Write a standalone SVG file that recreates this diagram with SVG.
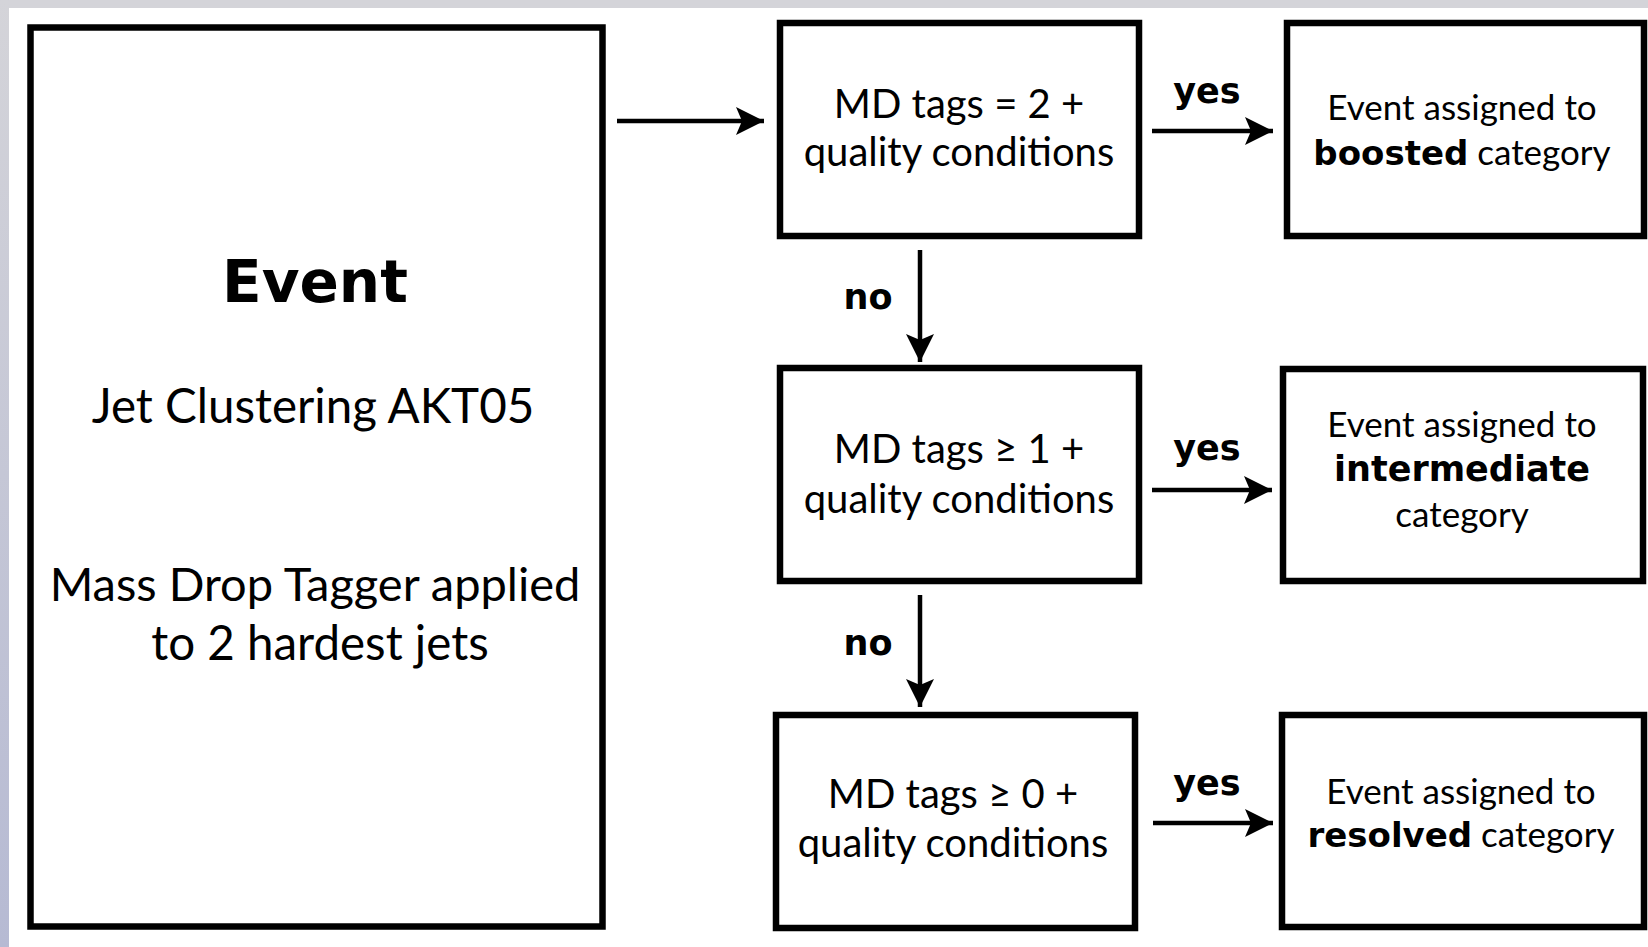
<svg xmlns="http://www.w3.org/2000/svg" width="1648" height="947" viewBox="0 0 1648 947">
<defs>
<linearGradient id="sideGrad" x1="0" y1="0" x2="0" y2="1">
<stop offset="0" stop-color="#d4d4d9"/>
<stop offset="1" stop-color="#b6bad3"/>
</linearGradient>
<marker id="arrow" viewBox="0 0 28 28" refX="28" refY="14" markerWidth="28" markerHeight="28" markerUnits="userSpaceOnUse" orient="auto">
<path d="M0,0 L28,14 L0,28 L6,14 Z" fill="#000"/>
</marker>
<style>
.box{fill:#fff;stroke:#000;stroke-width:6.5}
.t{font-family:Lato,"Open Sans","Liberation Sans",sans-serif;fill:#000;text-anchor:middle}
.b{font-family:"DejaVu Sans","Liberation Sans",sans-serif;font-weight:bold}
.cond{font-size:40px}
.res{font-size:35px}
.lbl{font-size:35px}
.conn{stroke:#000;stroke-width:4.5;fill:none;marker-end:url(#arrow)}
</style>
</defs>
<rect width="1648" height="947" fill="#fff"/>
<rect x="0" y="0" width="1648" height="8" fill="#d4d4d9"/>
<rect x="0" y="0" width="9" height="947" fill="url(#sideGrad)"/>

<g id="event">
<rect class="box" x="30.5" y="27.5" width="572" height="899"/>
<text class="t b" x="315" y="302" font-size="58">Event</text>
<text class="t" x="313" y="423" font-size="47.5">Jet Clustering AKT05</text>
<text class="t" x="315" y="601" font-size="47">Mass Drop Tagger applied</text>
<text class="t" x="320" y="660" font-size="47.5">to 2 hardest jets</text>
</g>

<g id="cond1">
<rect class="box" x="780" y="23" width="359" height="213"/>
<text class="t cond" x="959" y="118">MD tags = 2 +</text>
<text class="t cond" x="959" y="166">quality conditions</text>
</g>

<g id="cond2">
<rect class="box" x="780" y="368" width="359" height="213"/>
<text class="t cond" x="959" y="463">MD tags ≥ 1 +</text>
<text class="t cond" x="959" y="513">quality conditions</text>
</g>

<g id="cond3">
<rect class="box" x="776" y="715" width="359" height="213"/>
<text class="t cond" x="953" y="808">MD tags ≥ 0 +</text>
<text class="t cond" x="953" y="857">quality conditions</text>
</g>

<g id="boosted">
<rect class="box" x="1287" y="23" width="357" height="213"/>
<text class="t res" x="1462" y="120">Event assigned to</text>
<text class="t res" x="1462" y="165"><tspan class="b" font-size="34">boosted</tspan> category</text>
</g>

<g id="intermediate">
<rect class="box" x="1283" y="369" width="360" height="212"/>
<text class="t res" x="1462" y="437">Event assigned to</text>
<text class="t res b" x="1462" y="481" font-size="34">intermediate</text>
<text class="t res" x="1462" y="527">category</text>
</g>

<g id="resolved">
<rect class="box" x="1282" y="715" width="362" height="212"/>
<text class="t res" x="1461" y="804">Event assigned to</text>
<text class="t res" x="1461" y="847"><tspan class="b" font-size="34">resolved</tspan> category</text>
</g>

<g id="connectors">
<line class="conn" x1="617" y1="121" x2="764" y2="121"/>
<line class="conn" x1="1152" y1="131" x2="1273" y2="131"/>
<line class="conn" x1="920" y1="250" x2="920" y2="362"/>
<line class="conn" x1="1152" y1="490" x2="1272" y2="490"/>
<line class="conn" x1="920" y1="595" x2="920" y2="707"/>
<line class="conn" x1="1153" y1="823" x2="1273" y2="823"/>
<text class="t b lbl" x="1207" y="103">yes</text>
<text class="t b lbl" x="1207" y="460">yes</text>
<text class="t b lbl" x="1207" y="795">yes</text>
<text class="t b lbl" x="868" y="309" font-size="36">no</text>
<text class="t b lbl" x="868" y="655" font-size="36">no</text>
</g>
</svg>
